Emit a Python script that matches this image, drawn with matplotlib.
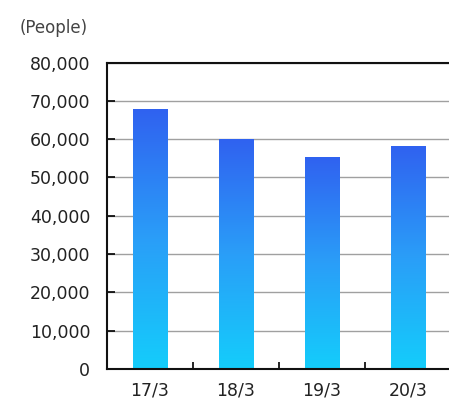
import matplotlib.pyplot as plt
import numpy as np
from matplotlib.colors import LinearSegmentedColormap

# Data
categories = ["17/3", "18/3", "19/3", "20/3"]
people = [67700, 59800, 55200, 58200]
y_ticks = [0, 10000, 20000, 30000, 40000, 50000, 60000, 70000, 80000]

fig = plt.figure(figsize=(4.49, 4.03), dpi=100)
ax = fig.add_axes([107 / 449, 34 / 403, 344 / 449, 306.5 / 403])

# Gradient from cyan (bottom) to blue (top) for each bar
cmap = LinearSegmentedColormap.from_list("bar", ["#14cdfb", "#2a9ef8", "#3062f0"])
grad = np.linspace(0, 1, 256).reshape(-1, 1)
bar_w = 0.4
x = np.arange(len(categories))
for xi, val in zip(x, people):
    ax.imshow(grad, cmap=cmap, origin="lower", aspect="auto",
              extent=(xi - bar_w / 2, xi + bar_w / 2, 0, val), zorder=2)

ax.set_xlim(-0.5, len(categories) - 0.5)
ax.set_ylim(0, 80000)

ax.set_yticks(y_ticks)
ax.set_yticklabels([f"{v:,}" for v in y_ticks])
ax.set_xticks(x)
ax.set_xticklabels(categories)
ax.set_xticks(x[:-1] + 0.5, minor=True)

ax.tick_params(axis="y", direction="in", length=6, width=1.2, pad=12,
               labelsize=12.5, labelcolor="#222222")
ax.tick_params(axis="x", which="major", length=0, pad=9,
               labelsize=12.5, labelcolor="#222222")
ax.tick_params(axis="x", which="minor", direction="in", length=5, width=1.2)
for lbl in ax.get_xticklabels() + ax.get_yticklabels():
    lbl.set_fontweight("medium")

ax.grid(axis="y", color="#a0a0a0", linewidth=1)
ax.set_axisbelow(True)
for s in ax.spines.values():
    s.set_linewidth(1.5)
    s.set_color("#111111")

fig.text(88 / 449, 1 - 28 / 403, "(People)", ha="right", va="center",
         fontsize=12, color="#444444")

fig.savefig("out.png", dpi=100)
